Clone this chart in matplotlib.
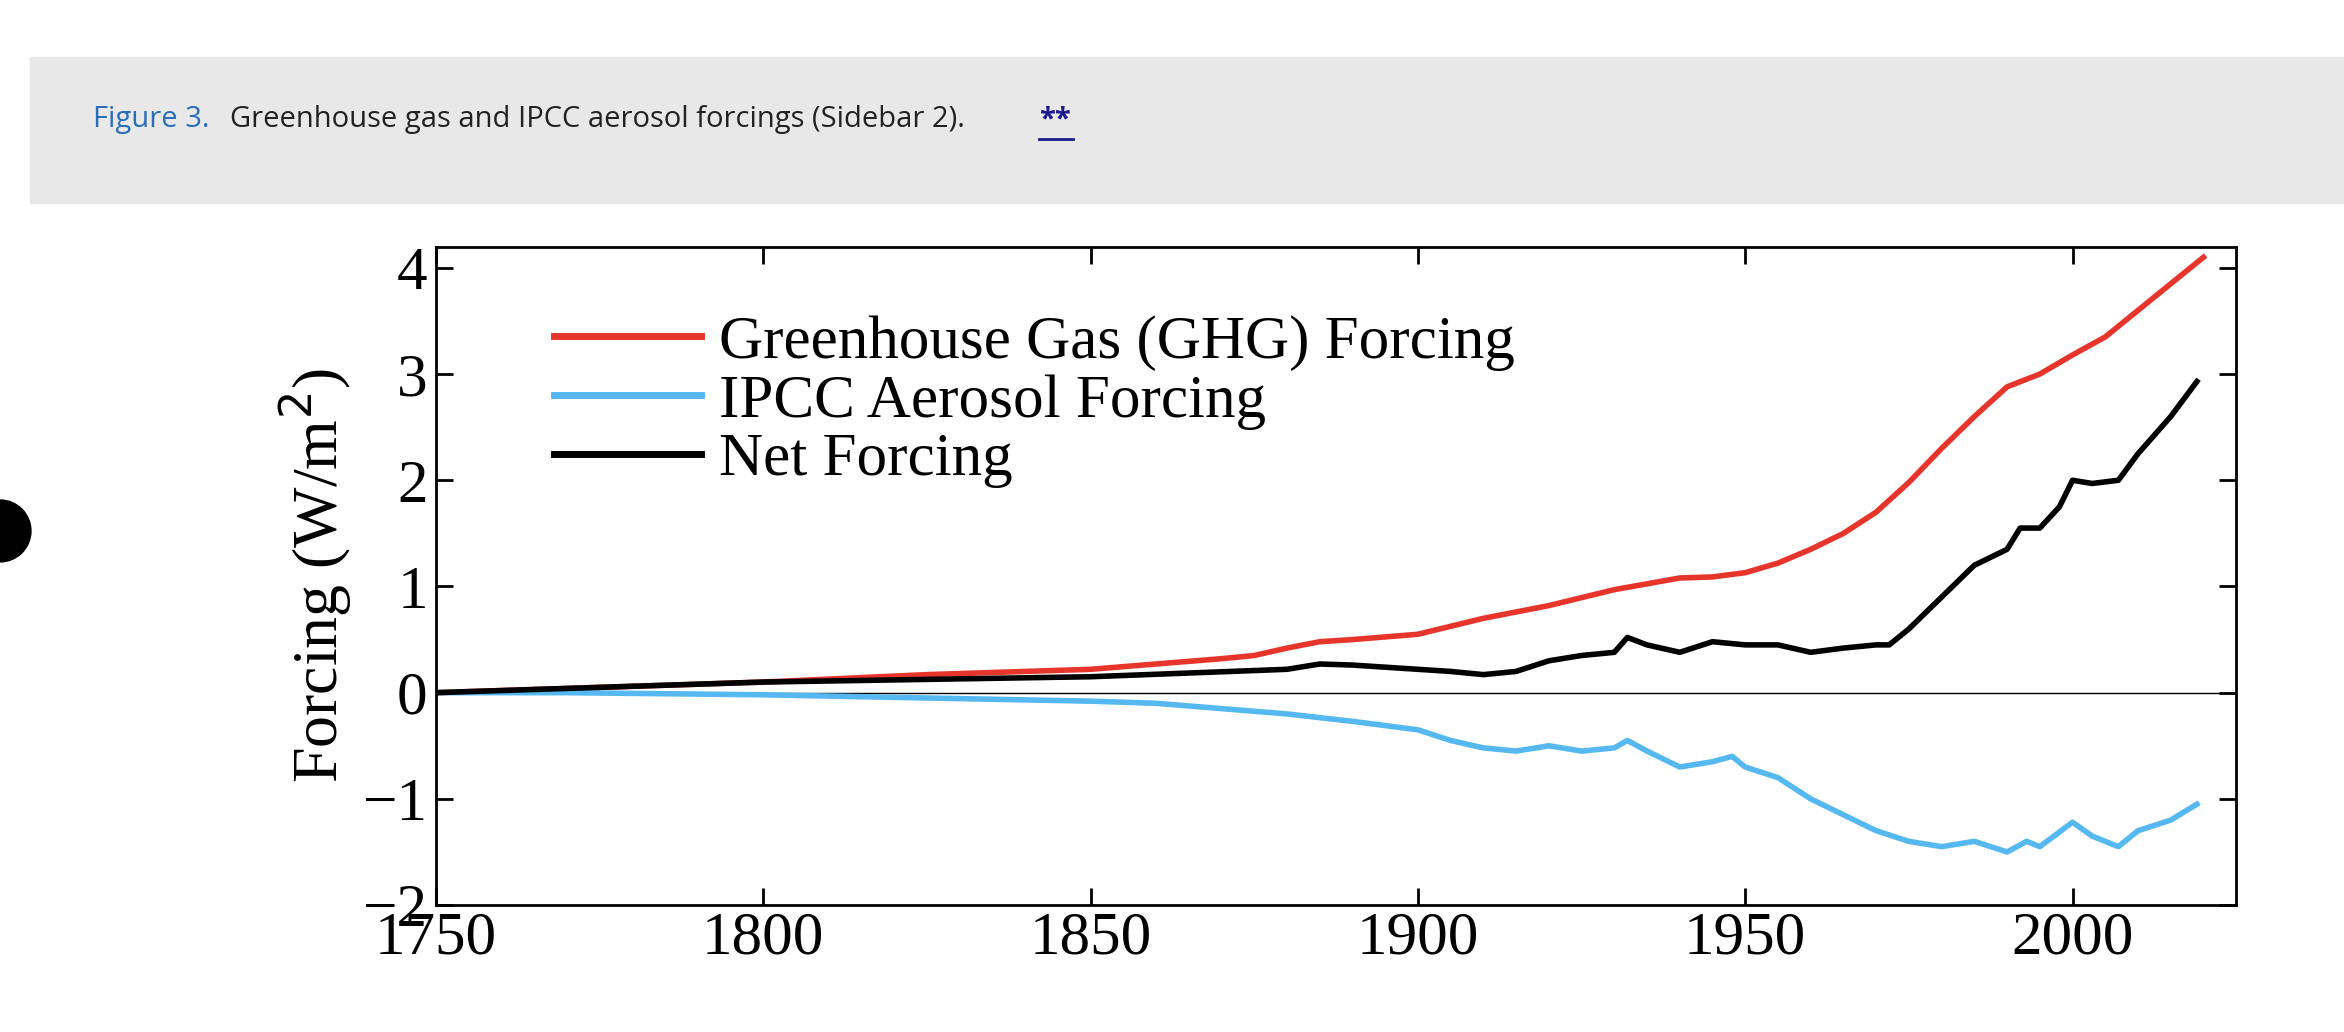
import matplotlib
matplotlib.use("Agg")
import matplotlib.pyplot as plt
from matplotlib.patches import Rectangle, Ellipse

ghg_years = [1750,1775,1800,1825,1850,1860,1870,1875,1880,1885,1890,1900,1910,1920,1930,1940,1945,1950,1955,1960,1965,1970,1975,1980,1985,1990,1995,2000,2005,2010,2015,2020]
ghg_vals = [0,0.05,0.1,0.17,0.22,0.27,0.32,0.35,0.42,0.48,0.5,0.55,0.7,0.82,0.97,1.08,1.09,1.13,1.22,1.35,1.5,1.7,1.98,2.3,2.6,2.88,3.0,3.18,3.35,3.6,3.85,4.1]

aer_years = [1750,1770,1800,1850,1860,1870,1880,1890,1900,1905,1910,1915,1920,1925,1930,1932,1935,1940,1945,1948,1950,1955,1960,1965,1970,1975,1980,1985,1990,1993,1995,2000,2003,2007,2010,2015,2019]
aer_vals = [0,0.0,-0.02,-0.08,-0.1,-0.15,-0.2,-0.27,-0.35,-0.45,-0.52,-0.55,-0.5,-0.55,-0.52,-0.45,-0.55,-0.7,-0.65,-0.6,-0.7,-0.8,-1.0,-1.15,-1.3,-1.4,-1.45,-1.4,-1.5,-1.4,-1.45,-1.22,-1.35,-1.45,-1.3,-1.2,-1.05]

net_years = [1750,1800,1850,1880,1885,1890,1900,1905,1910,1915,1920,1925,1930,1932,1935,1940,1945,1950,1955,1960,1965,1970,1972,1975,1980,1985,1990,1992,1995,1998,2000,2003,2007,2010,2015,2019]
net_vals = [0,0.1,0.15,0.22,0.27,0.26,0.22,0.2,0.17,0.2,0.3,0.35,0.38,0.52,0.45,0.38,0.48,0.45,0.45,0.38,0.42,0.45,0.45,0.6,0.9,1.2,1.35,1.55,1.55,1.75,2.0,1.97,2.0,2.25,2.6,2.93]

xticks = [1750,1800,1850,1900,1950,2000]
yticks = [-2,-1,0,1,2,3,4]

fig = plt.figure(figsize=(23.44,10.32), dpi=100)
fig.patches.append(Rectangle((20/1568,1-136/690),1,98/690,transform=fig.transFigure,color="#e8e8e8",zorder=0))
fig.patches.append(Ellipse((0.0,1-355/690),0.03*1032/2344*2,0.06,transform=fig.transFigure,color="black",zorder=1))
cy = 1-80/690
fig.text(62/1568,cy,"Figure 3.",color="#2a6ebb",fontsize=21,family="Open Sans",va="center")
fig.text(154/1568,cy,"Greenhouse gas and IPCC aerosol forcings (Sidebar 2).",color="#222222",fontsize=21,family="Open Sans",va="center")
fig.text(695/1568,cy,"**",color="#1a1a8c",fontsize=21,family="Open Sans",va="center",fontweight="bold")
fig.lines.append(plt.Line2D([695/1568,718/1568],[1-93/690]*2,transform=fig.transFigure,color="#1a1a8c",lw=2))

ax = fig.add_axes([0.186,0.123,0.768,0.638])
serif = "Liberation Serif"
ax.axhline(0,color="black",lw=1)
ax.plot(ghg_years,ghg_vals,color="#e8352b",lw=4,label="Greenhouse Gas (GHG) Forcing")
ax.plot(aer_years,aer_vals,color="#55b8f0",lw=4,label="IPCC Aerosol Forcing")
ax.plot(net_years,net_vals,color="black",lw=4,label="Net Forcing")
ax.set_xlim(1750,2025)
ax.set_ylim(-2,4.2)
ax.set_xticks(xticks)
ax.set_yticks(yticks)
ax.set_yticklabels(["\u22122","\u22121","0","1","2","3","4"])
ax.tick_params(direction="in",top=True,right=True,length=12,width=2,labelsize=44,pad=6)
ax.tick_params(axis="x",pad=4)
for l in ax.get_xticklabels()+ax.get_yticklabels():
    l.set_family(serif)
for s in ax.spines.values():
    s.set_linewidth(2)
ax.set_ylabel("Forcing (W/m$^2$)",fontsize=46,family=serif,labelpad=6)
leg = ax.legend(loc="upper left",bbox_to_anchor=(0.035,0.98),frameon=False,prop={"family":serif,"size":44},handlelength=2.4,handletextpad=0.3,labelspacing=0.05)
for h in leg.get_lines():
    h.set_linewidth(5)
fig.savefig("out.png",dpi=100)
